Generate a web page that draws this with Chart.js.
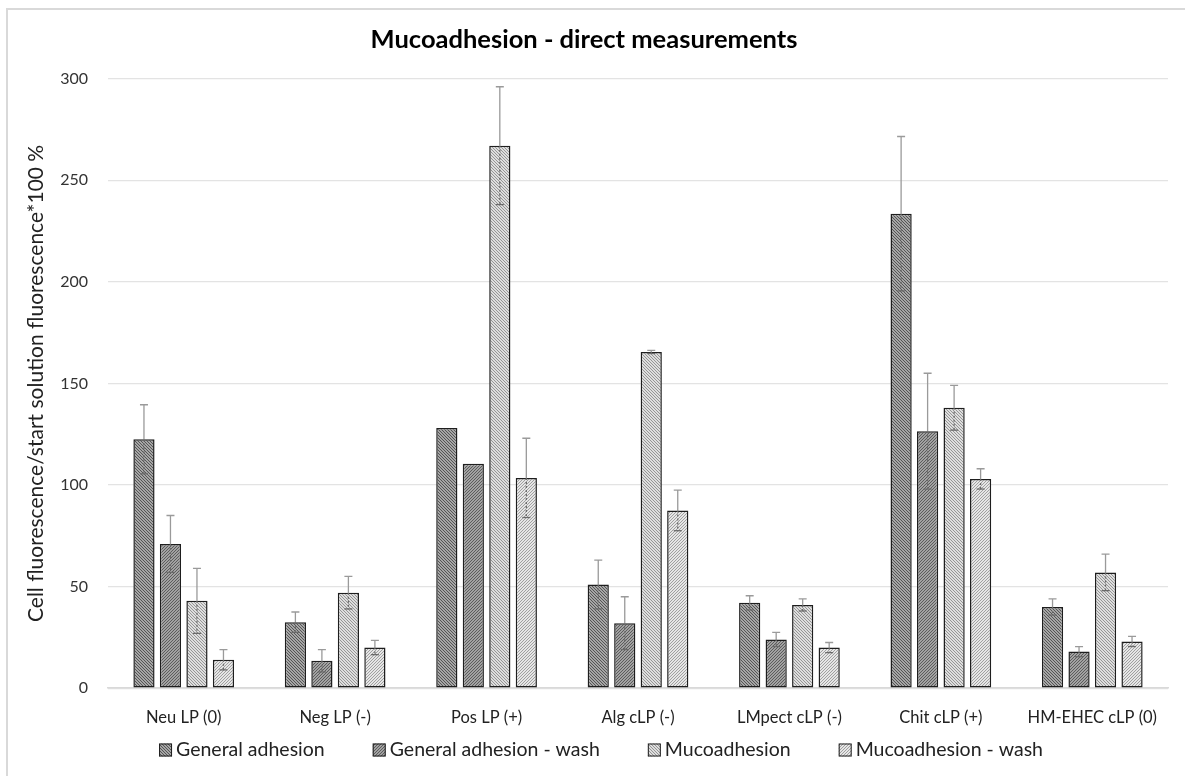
<!DOCTYPE html>
<html>
<head>
<meta charset="utf-8">
<script src="https://cdn.jsdelivr.net/npm/chart.js@4/dist/chart.umd.min.js"></script>
<style>
  body { margin: 0; background: #fff; }
  #wrap { position: relative; width: 1185px; height: 776px; overflow: hidden; }
  #frame { position: absolute; left: 6px; top: 8px; width: 1200px; height: 800px;
           border: 2px solid #d9d9d9; pointer-events: none; }
</style>
</head>
<body>
<div id="wrap">
  <canvas id="my_Canvas" width="1185" height="776"></canvas>
  <div id="frame"></div>
</div>
<script>
// categories + series values
var labels = ['Neu LP (0)', 'Neg LP (-)', 'Pos LP (+)', 'Alg cLP (-)', 'LMpect cLP (-)', 'Chit cLP (+)', 'HM-EHEC cLP (0)'];
var generalAdhesion     = [122.5, 32.5, 128, 51, 42, 233.5, 40];
var generalAdhesionWash = [71, 13.5, 110.5, 32, 24, 126.5, 18];
var mucoadhesion        = [43, 47, 267, 165.5, 41, 138, 57];
var mucoadhesionWash    = [14, 20, 103.5, 87.5, 20, 103, 23];
// error bar (+/-) values
var errGeneral     = [17, 5, 0, 12, 3.5, 38, 4];
var errGeneralWash = [14, 5.5, 0, 13, 3.5, 28.5, 2.5];
var errMuco        = [16, 8, 29, 0.8, 3, 11, 9];
var errMucoWash    = [5, 3.5, 19.5, 10, 2.5, 5, 2.5];
var yTicks = [0, 50, 100, 150, 200, 250, 300];

/* hatch pattern for bars: bg colour, line colour, direction */
function hatch(bg, fg, back){
    var n = 3;
    var c = document.createElement('canvas');
    c.width = n; c.height = n;
    var g = c.getContext('2d');
    g.fillStyle = bg;
    g.fillRect(0, 0, n, n);
    g.fillStyle = fg;
    for(var i=0;i<n;i++){
        var x = back ? i : n - 1 - i;
        g.fillRect(x, i, 1, 1);
    }
    return g.createPattern(c, 'repeat');
}

var ctx0 = document.getElementById('my_Canvas').getContext('2d');
var patterns = [
    hatch('#a6a6a6', '#555555', true),
    hatch('#a2a2a2', '#5c5c5c', false),
    hatch('#dedede', '#959595', true),
    hatch('#e6e6e6', '#a0a0a0', false)
];

/* error bars, drawn from the y scale */
var errorBars = {
    id: 'errorBars',
    afterDatasetsDraw: function(chart){
        var ctx = chart.ctx;
        var y = chart.scales.y;
        chart.data.datasets.forEach(function(ds, i){
            var meta = chart.getDatasetMeta(i);
            meta.data.forEach(function(bar, j){
                var e = ds.errors[j];
                if(!e) return;
                var v = ds.data[j];
                var top = y.getPixelForValue(v + e);
                var bot = y.getPixelForValue(v - e);
                var x = bar.x;
                ctx.save();
                ctx.strokeStyle = '#9a9a9a';
                ctx.lineWidth = 1.3;
                ctx.beginPath();
                ctx.moveTo(x, top); ctx.lineTo(x, bar.y);
                ctx.moveTo(x - 4, top); ctx.lineTo(x + 4, top);
                ctx.stroke();
                ctx.setLineDash([2, 2]);
                ctx.strokeStyle = '#6a6a6a';
                ctx.beginPath();
                ctx.moveTo(x, bar.y); ctx.lineTo(x, bot);
                ctx.stroke();
                ctx.setLineDash([]);
                ctx.beginPath();
                ctx.moveTo(x - 4, bot); ctx.lineTo(x + 4, bot);
                ctx.stroke();
                ctx.restore();
            });
        });
    }
};

/* legend at the bottom, Excel style (small gap box->text, wide gap between items) */
var bottomLegend = {
    id: 'bottomLegend',
    afterDraw: function(chart){
        var ctx = chart.ctx;
        var ds = chart.data.datasets;
        ctx.save();
        ctx.font = '19.5px Lato';
        var box = 13, gap = 4, space = 48;
        var total = 0;
        ds.forEach(function(d, i){
            total += box + gap + ctx.measureText(d.label).width + (i ? space : 0);
        });
        var x = 601 - total / 2, y = 750;
        ds.forEach(function(d){
            ctx.fillStyle = d.backgroundColor;
            ctx.fillRect(x, y - box / 2, box, box);
            ctx.strokeStyle = '#1e1e1e';
            ctx.lineWidth = 1;
            ctx.strokeRect(x + 0.5, y - box / 2 + 0.5, box - 1, box - 1);
            ctx.fillStyle = '#222';
            ctx.textBaseline = 'middle';
            ctx.textAlign = 'left';
            ctx.fillText(d.label, x + box + gap, y);
            x += box + gap + ctx.measureText(d.label).width + space;
        });
        ctx.restore();
    }
};

function set(label, data, errors, k){
    return {
        label: label,
        data: data,
        errors: errors,
        backgroundColor: patterns[k],
        borderColor: '#1e1e1e',
        borderWidth: 1.5,
        borderSkipped: false,
        categoryPercentage: 0.7,
        barPercentage: 0.8
    };
}

var myChart = new Chart(ctx0, {
    type: 'bar',
    data: {
        labels: labels,
        datasets: [
            set('General adhesion', generalAdhesion, errGeneral, 0),
            set('General adhesion - wash', generalAdhesionWash, errGeneralWash, 1),
            set('Mucoadhesion', mucoadhesion, errMuco, 2),
            set('Mucoadhesion - wash', mucoadhesionWash, errMucoWash, 3)
        ]
    },
    options: {
        responsive: false,
        animation: false,
        layout: { padding: { left: 0, right: 17, top: 20, bottom: 28 } },
        plugins: {
            title: {
                display: true,
                text: 'Mucoadhesion - direct measurements',
                color: '#000',
                font: { family: 'Lato', size: 25.5, weight: 'bold' },
                padding: { top: 4, bottom: 24 }
            },
            legend: { display: false },
            tooltip: { enabled: false }
        },
        scales: {
            x: {
                grid: { display: false, drawTicks: false },
                border: { color: '#d9d9d9', width: 1.5 },
                ticks: { color: '#222', font: { family: 'Lato', size: 16.5 }, padding: 20 }
            },
            y: {
                min: 0,
                max: 300,
                afterBuildTicks: function(s){ s.ticks = yTicks.map(function(v){ return { value: v }; }); },
                afterFit: function(s){ s.width = 108; },
                grid: { color: '#e3e3e3', lineWidth: 1.2, drawTicks: false },
                border: { display: false },
                ticks: { color: '#333', font: { family: 'Lato', size: 16 }, padding: 20 },
                title: {
                    display: true,
                    text: 'Cell fluorescence/start solution fluorescence*100 %',
                    color: '#222',
                    font: { family: 'Lato', size: 21 },
                    padding: { top: 24, bottom: 0 }
                }
            }
        }
    },
    plugins: [errorBars, bottomLegend]
});
</script>
</body>
</html>
